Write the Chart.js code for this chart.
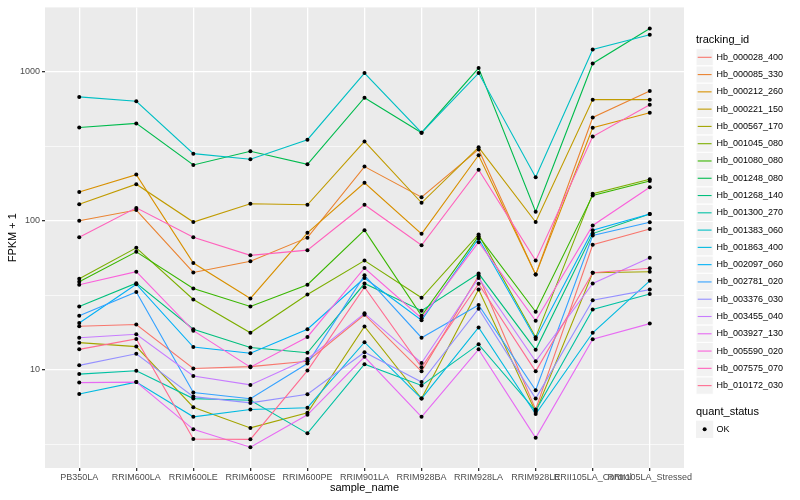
<!DOCTYPE html>
<html>
<head>
<meta charset="utf-8">
<script src="https://cdn.jsdelivr.net/npm/chart.js@4.4.0/dist/chart.umd.min.js"></script>
<style>
  html, body { margin: 0; padding: 0; background: #fff; }
  canvas { display: block; }
</style>
</head>
<body>
<canvas id="fpkmChart" width="800" height="500"></canvas>
<script>
// x axis categories
const samples = ['PB350LA', 'RRIM600LA', 'RRIM600LE', 'RRIM600SE', 'RRIM600PE', 'RRIM901LA',
    'RRIM928BA', 'RRIM928LA', 'RRIM928LE', 'RRII105LA_Control', 'RRII105LA_Stressed'];

const trackingIds = ['Hb_000028_400', 'Hb_000085_330', 'Hb_000212_260', 'Hb_000221_150', 'Hb_000567_170',
    'Hb_001045_080', 'Hb_001080_080', 'Hb_001248_080', 'Hb_001268_140', 'Hb_001300_270',
    'Hb_001383_060', 'Hb_001863_400', 'Hb_002097_060', 'Hb_002781_020', 'Hb_003376_030',
    'Hb_003455_040', 'Hb_003927_130', 'Hb_005590_020', 'Hb_007575_070', 'Hb_010172_030'];

// FPKM + 1 per sample (same order as samples)
const hb_000028_400 = [19.6, 20.1, 10.2, 10.5, 11.4, 23.4, 9.75, 42.7, 5.41, 69, 88.1];
const hb_000085_330 = [100, 118, 45, 53.5, 77, 231, 144, 301, 43.5, 493, 743];
const hb_000212_260 = [156, 204, 52, 30.1, 83, 180, 81.7, 275, 43.5, 421, 530];
const hb_000221_150 = [129, 176, 98, 130, 128, 341, 132, 311, 98, 650, 650];
const hb_000567_170 = [15.2, 14.3, 5.6, 4.07, 5.14, 19.5, 6.4, 34.5, 5.21, 44.8, 45.5];
const hb_001045_080 = [40.8, 65.8, 29.6, 17.7, 32.0, 54.0, 30.4, 80.9, 16.5, 152, 190];
const hb_001080_080 = [39.0, 61.9, 35.1, 26.6, 37.2, 86.5, 23.0, 78.8, 24.5, 148, 185];
const hb_001248_080 = [423, 450, 237, 293, 239, 670, 390, 1058, 115, 1137, 1950];
const hb_001268_140 = [26.6, 38.1, 18.7, 14.1, 13.0, 37.9, 24.9, 44.2, 13.6, 82, 111];
const hb_001300_270 = [9.35, 9.84, 6.4, 6.24, 3.74, 10.9, 7.85, 14.8, 5.3, 25.4, 32.2];
const hb_001383_060 = [678, 634, 282, 259, 350, 980, 390, 980, 196, 1409, 1770];
const hb_001863_400 = [6.87, 8.26, 4.83, 5.41, 5.56, 15.3, 6.4, 19.2, 5.04, 17.7, 39.5];
const hb_002097_060 = [20.6, 37.5, 14.2, 12.9, 18.7, 41.3, 21.5, 76.0, 16.1, 86.5, 111];
const hb_002781_020 = [23.0, 33.3, 7.04, 6.39, 11.0, 43.0, 16.4, 27.2, 7.28, 79.6, 97.7];
const hb_003376_030 = [10.7, 12.8, 6.6, 5.99, 6.84, 13.1, 8.27, 25.7, 6.4, 29.3, 34.5];
const hb_003455_040 = [16.4, 17.3, 9.07, 7.91, 11.8, 23.9, 11.1, 41.3, 11.4, 37.9, 56.5];
const hb_003927_130 = [8.2, 8.26, 3.98, 3.02, 4.98, 12.2, 4.83, 13.7, 3.49, 16.0, 20.4];
const hb_005590_020 = [37.2, 45.5, 18.3, 10.4, 16.6, 48.2, 22.2, 71.8, 21.3, 93, 168];
const hb_007575_070 = [77.6, 122, 77.6, 58.6, 63.5, 128, 68.5, 220, 54, 367, 600];
const hb_010172_030 = [13.7, 16.1, 3.43, 3.41, 9.87, 35.8, 10.4, 37.7, 9.75, 44.8, 48.0];

const seriesValues = [hb_000028_400, hb_000085_330, hb_000212_260, hb_000221_150, hb_000567_170,
    hb_001045_080, hb_001080_080, hb_001248_080, hb_001268_140, hb_001300_270,
    hb_001383_060, hb_001863_400, hb_002097_060, hb_002781_020, hb_003376_030,
    hb_003455_040, hb_003927_130, hb_005590_020, hb_007575_070, hb_010172_030];

const yTicks = [10, 100, 1000];
const quantStatus = ['OK'];

// ggplot hue palette, 20 levels
const lineColors = ['#F8766D', '#EA8331', '#D89000', '#C09B00', '#A3A500', '#7CAE00', '#39B600',
    '#00BB4E', '#00BF7D', '#00C1A3', '#00BFC4', '#00BAE0', '#00B0F6', '#35A2FF', '#9590FF',
    '#C77CFF', '#E76BF3', '#FA62DB', '#FF62BC', '#FF6C91'];

const FONT = '"Liberation Sans", Arial, sans-serif';

// minor breaks halfway between decades, like ggplot
const minorTicks = [];
yTicks.forEach(v => minorTicks.push(v / Math.sqrt(10)));

const ggPanel = {
    id: 'ggPanel',
    beforeDraw(chart) {
        const {ctx, chartArea: a} = chart;
        ctx.save();
        ctx.fillStyle = '#EBEBEB';
        ctx.fillRect(a.left, a.top, a.right - a.left, a.bottom - a.top);
        ctx.restore();
    },
    afterDatasetsDraw(chart) {
        // black points above every line
        const ctx = chart.ctx;
        ctx.save();
        ctx.fillStyle = '#000';
        chart.data.datasets.forEach((ds, i) => {
            chart.getDatasetMeta(i).data.forEach(pt => {
                ctx.beginPath();
                ctx.arc(pt.x, pt.y, 2, 0, Math.PI * 2);
                ctx.fill();
            });
        });
        ctx.restore();
    },
    afterDraw(chart) {
        const ctx = chart.ctx;
        const left = 696, key = 17.28;
        ctx.save();
        ctx.textBaseline = 'middle';
        ctx.textAlign = 'left';
        ctx.fillStyle = '#000';
        ctx.font = '11px ' + FONT;
        ctx.fillText('tracking_id', left, 40);

        ctx.font = '9px ' + FONT;
        chart.data.datasets.forEach((ds, i) => {
            const cy = 57.3 + key * i;
            ctx.fillStyle = '#F2F2F2';
            ctx.fillRect(left, cy - key / 2, key, key);
            ctx.strokeStyle = '#fff';
            ctx.lineWidth = 1;
            ctx.strokeRect(left, cy - key / 2, key, key);
            ctx.strokeStyle = ds.borderColor;
            ctx.lineWidth = 1.1;
            ctx.beginPath();
            ctx.moveTo(left + 1.7, cy);
            ctx.lineTo(left + key - 1.7, cy);
            ctx.stroke();
            ctx.fillStyle = '#000';
            ctx.fillText(ds.label, 716.5, cy);
        });

        ctx.font = '11px ' + FONT;
        ctx.fillText('quant_status', left, 412.3);
        const cy = 429.3;
        ctx.fillStyle = '#F2F2F2';
        ctx.fillRect(left, cy - key / 2, key, key);
        ctx.fillStyle = '#000';
        ctx.beginPath();
        ctx.arc(left + key / 2, cy, 2, 0, Math.PI * 2);
        ctx.fill();
        ctx.font = '9px ' + FONT;
        ctx.fillText(quantStatus[0], 716.5, cy);
        ctx.restore();
    }
};

const datasets = seriesValues.map((vals, i) => ({
    label: trackingIds[i],
    data: vals.map((v, j) => ({x: j, y: v})),
    borderColor: lineColors[i],
    backgroundColor: lineColors[i],
    borderWidth: 1.1,
    pointRadius: 0,
    fill: false,
    tension: 0,
    order: seriesValues.length - i
}));

new Chart(document.getElementById('fpkmChart').getContext('2d'), {
    type: 'line',
    data: { datasets: datasets },
    plugins: [ggPanel],
    options: {
        responsive: false,
        animation: false,
        devicePixelRatio: 1,
        layout: { padding: { left: 0, right: 116, top: 5, bottom: 0 } },
        plugins: { legend: { display: false }, tooltip: { enabled: false } },
        scales: {
            x: {
                type: 'linear',
                min: -0.6,
                max: samples.length - 0.4,
                afterBuildTicks: s => { s.ticks = samples.map((n, i) => ({value: i})); },
                afterFit: s => { s.height = 32; },
                border: { display: false },
                grid: { color: '#fff', lineWidth: 1.3, tickLength: 3, tickColor: '#333' },
                ticks: {
                    autoSkip: false, maxRotation: 0, minRotation: 0, padding: 1,
                    color: '#4D4D4D', font: { family: FONT, size: 9 },
                    callback: v => samples[v]
                },
                title: {
                    display: true, text: 'sample_name', color: '#000',
                    font: { family: FONT, size: 11 }, padding: { top: 0, bottom: 5 }
                }
            },
            y: {
                type: 'logarithmic',
                min: 2.19,
                max: 2704,
                afterBuildTicks: s => {
                    s.ticks = minorTicks.concat(yTicks).sort((a, b) => a - b).map(v => ({value: v}));
                },
                afterFit: s => { s.width = 45; },
                border: { display: false },
                grid: {
                    color: '#fff',
                    lineWidth: c => yTicks.includes(c.tick.value) ? 1.3 : 0.65,
                    tickLength: 3,
                    tickColor: c => yTicks.includes(c.tick.value) ? '#333' : 'rgba(0,0,0,0)'
                },
                ticks: {
                    padding: 2, color: '#4D4D4D', font: { family: FONT, size: 9 },
                    callback: v => yTicks.includes(v) ? String(v) : ''
                },
                title: {
                    display: true, text: 'FPKM + 1', color: '#000',
                    font: { family: FONT, size: 11 }, padding: { top: 6, bottom: 0 }
                }
            }
        }
    }
});
</script>
</body>
</html>
